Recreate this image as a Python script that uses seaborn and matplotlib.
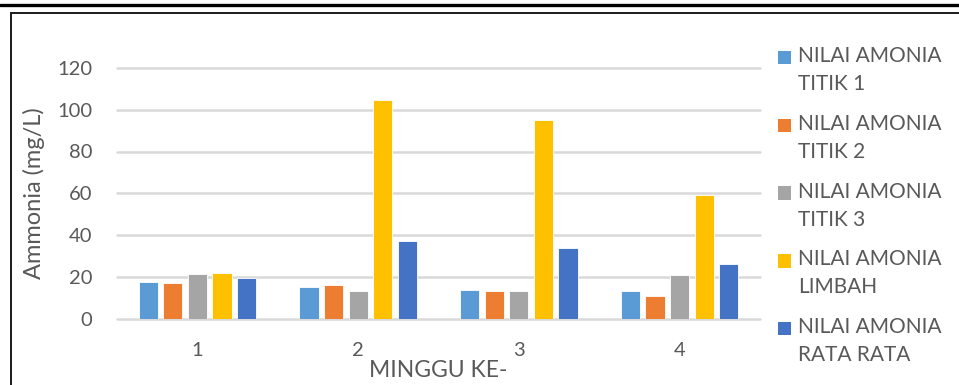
import matplotlib
matplotlib.use("Agg")
import matplotlib.pyplot as plt
from matplotlib.lines import Line2D
from matplotlib.patches import Rectangle, Patch
import seaborn as sns
import pandas as pd

# Weekly ammonia readings (mg/L)
weeks = ["1", "2", "3", "4"]
series_names = [
    "NILAI AMONIA\nTITIK 1",
    "NILAI AMONIA\nTITIK 2",
    "NILAI AMONIA\nTITIK 3",
    "NILAI AMONIA\nLIMBAH",
    "NILAI AMONIA\nRATA RATA",
]
titik_1 = [17.5, 15.1, 13.8, 13.4]
titik_2 = [17.0, 16.0, 13.4, 11.0]
titik_3 = [21.4, 13.3, 13.0, 20.6]
limbah = [21.7, 104.6, 95.3, 59.3]
rata_rata = [19.6, 37.1, 33.8, 26.2]
colors = ["#5B9BD5", "#ED7D31", "#A5A5A5", "#FFC000", "#4472C4"]
y_ticks = [0, 20, 40, 60, 80, 100, 120]

all_values = [titik_1, titik_2, titik_3, limbah, rata_rata]
rows = []
for name, vals in zip(series_names, all_values):
    for w, v in zip(weeks, vals):
        rows.append({"week": w, "series": name, "value": v})
df = pd.DataFrame(rows)

sns.set_theme(style="white")
plt.rcParams["font.family"] = ["Lato", "DejaVu Sans"]
text_color = "#595959"

fig = plt.figure(figsize=(9.59, 3.85), dpi=100)
ax = fig.add_axes([117 / 959, 1 - 318.5 / 385, (760 - 117) / 959, (318.5 - 68) / 385])

sns.barplot(
    data=df, x="week", y="value", hue="series", order=weeks,
    hue_order=series_names, palette=colors, width=0.765, gap=0.22,
    edgecolor="white", linewidth=0.6, saturation=1, legend=False, ax=ax,
)

ax.set_ylim(0, 120)
ax.set_yticks(y_ticks)
ax.set_yticklabels([str(t) for t in y_ticks])
ax.set_axisbelow(True)
ax.yaxis.grid(True, color="#D9D9D9", linewidth=1.8)
for gl in ax.yaxis.get_gridlines():
    gl.set_clip_on(False)
for s in ax.spines.values():
    s.set_visible(False)
ax.tick_params(axis="both", length=0, colors=text_color, labelsize=14.5)
ax.tick_params(axis="y", pad=18)
ax.tick_params(axis="x", pad=17)

ax.set_ylabel("Ammonia (mg/L)", fontsize=17, color=text_color)
ax.yaxis.set_label_coords(-0.112, 0.5)
ax.set_xlabel("MINGGU KE-", fontsize=16.5, color=text_color)
ax.xaxis.set_label_coords(0.5, -0.165)

handles = [Patch(facecolor=c, edgecolor="none") for c in colors]
leg = fig.legend(
    handles, series_names, loc="upper left", bbox_to_anchor=(778 / 959, 1 - 46 / 385),
    frameon=False, fontsize=15, handlelength=0.62, handleheight=0.62,
    handletextpad=0.36, labelspacing=0.95, labelcolor=text_color,
    borderaxespad=0, borderpad=0,
)
for t in leg.get_texts():
    t.set_linespacing(1.5)
# lift each swatch to sit beside the first line of its label
for p in leg.get_patches():
    p.set_y(p.get_y() + 9.5)

# page rule and chart frame
fig.add_artist(Line2D([0, 1], [1 - 5 / 385, 1 - 5 / 385], color="black", linewidth=2.4))
fig.add_artist(Rectangle((10.5 / 959, -0.05), 1.2, 1 - 12.5 / 385 + 0.05,
                         transform=fig.transFigure, fill=False,
                         edgecolor="#1a1a1a", linewidth=1.4))

fig.savefig("out.png", dpi=100)
